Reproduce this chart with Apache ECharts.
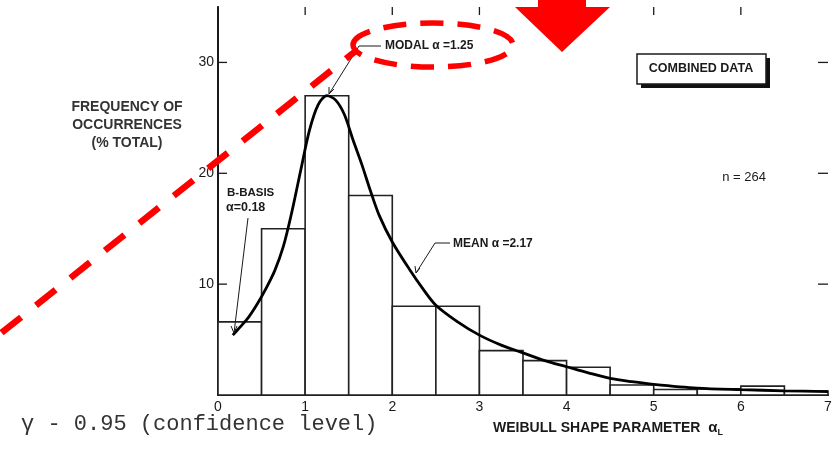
<!DOCTYPE html>
<html>
<head>
<meta charset="utf-8">
<script src="https://cdn.jsdelivr.net/npm/echarts@6/dist/echarts.min.js"></script>
<style>
html,body{margin:0;padding:0;background:#fff;}
#chart{width:835px;height:449px;}
</style>
</head>
<body>
<div id="chart"></div>
<script>
// Histogram bins (Weibull shape parameter) and frequency (% total)
const binStart = [0, 0.5, 1, 1.5, 2, 2.5, 3, 3.5, 4, 4.5, 5, 5.5, 6, 6.5];
const binEnd   = [0.5, 1, 1.5, 2, 2.5, 3, 3.5, 4, 4.5, 5, 5.5, 6, 6.5, 7];
const binFreq  = [6.6, 15, 27, 18, 8, 8, 4, 3.1, 2.5, 0.9, 0.5, 0.55, 0.8, 0.35];

// Fitted density curve
const curveX = [0.17, 0.25, 0.35, 0.45, 0.55, 0.65, 0.75, 0.85, 0.95, 1.05, 1.15, 1.25, 1.35, 1.45, 1.55, 1.65, 1.75, 1.85, 2.0, 2.2, 2.35, 2.5, 2.75, 3.0, 3.25, 3.5, 3.75, 4.0, 4.25, 4.5, 4.75, 5.0, 5.5, 6.0, 6.5, 7.0];
const curveY = [5.4, 6.1, 7.0, 8.2, 9.6, 11.2, 13.4, 16.6, 20.3, 23.9, 26.2, 27.0, 26.6, 25.3, 23.0, 20.8, 18.4, 16.2, 13.8, 11.3, 9.6, 8.1, 6.6, 5.4, 4.5, 3.8, 3.1, 2.55, 2.0, 1.5, 1.2, 0.96, 0.62, 0.48, 0.38, 0.3];

// Axis ticks
const xTicks = [0, 1, 2, 3, 4, 5, 6, 7];
const topTicks = [1, 2, 3, 4, 5, 6];
const yTicks = [10, 20, 30];

const FONT = "'Liberation Sans', Arial, sans-serif";
const INK = '#1a1a1a';

const chart = echarts.init(document.getElementById('chart'), null, {renderer: 'canvas'});

const histData = binStart.map((s, i) => [s, binEnd[i], binFreq[i]]);
const curveData = curveX.map((x, i) => [x, curveY[i]]);

const baseGraphics = [
    // y-axis title
    {type: 'text', z: 10, x: 127, y: 98,
     style: {text: 'FREQUENCY OF\nOCCURRENCES\n(% TOTAL)', fill: '#333', font: 'bold 14px ' + FONT,
       textAlign: 'center', lineHeight: 18}},
    // x-axis title
    {type: 'text', z: 10, x: 608, y: 428,
     style: {text: 'WEIBULL SHAPE PARAMETER  {a|α}{s|L}', fill: INK, font: 'bold 14px ' + FONT,
       textAlign: 'center', textVerticalAlign: 'middle',
       rich: {a: {font: 'bold 15px ' + FONT, fill: INK}, s: {font: 'bold 9px ' + FONT, fill: INK, padding: [10, 0, 0, 0]}}}},
    // confidence level text
    {type: 'text', z: 10, x: 21, y: 424,
     style: {text: 'γ - 0.95 (confidence level)', fill: '#333', font: '22px "Liberation Mono", "Courier New", monospace',
       textVerticalAlign: 'middle'}},
    // COMBINED DATA box with shadow
    {type: 'rect', z: 10, shape: {x: 641, y: 58, width: 129, height: 30}, style: {fill: '#111'}},
    {type: 'rect', z: 11, shape: {x: 637, y: 54, width: 129, height: 30}, style: {fill: '#fff', stroke: INK, lineWidth: 1.5}},
    {type: 'text', z: 12, x: 701, y: 69,
     style: {text: 'COMBINED DATA', fill: INK, font: 'bold 12.5px ' + FONT, textAlign: 'center', textVerticalAlign: 'middle'}},
    // n = 264
    {type: 'text', z: 10, x: 744, y: 177,
     style: {text: 'n = 264', fill: INK, font: '13px ' + FONT, textAlign: 'center', textVerticalAlign: 'middle'}},
    // MODAL annotation
    {type: 'text', z: 10, x: 385, y: 46,
     style: {text: 'MODAL α =1.25', fill: INK, font: 'bold 12px ' + FONT, textVerticalAlign: 'middle'}},
    {type: 'polyline', z: 10, shape: {points: [[381, 46], [359, 46], [329, 94]]}, style: {stroke: INK, lineWidth: 1, fill: null}},
    {type: 'polyline', z: 10, shape: {points: [[329, 87], [329, 94], [334, 89]]}, style: {stroke: INK, lineWidth: 1, fill: null}},
    // B-BASIS annotation
    {type: 'text', z: 10, x: 227, y: 193,
     style: {text: 'B-BASIS', fill: INK, font: 'bold 11.5px ' + FONT, textVerticalAlign: 'middle'}},
    {type: 'text', z: 10, x: 226, y: 208,
     style: {text: 'α=0.18', fill: INK, font: 'bold 12.5px ' + FONT, textVerticalAlign: 'middle'}},
    {type: 'line', z: 10, shape: {x1: 248, y1: 218, x2: 234, y2: 333}, style: {stroke: INK, lineWidth: 1}},
    {type: 'polyline', z: 10, shape: {points: [[231, 326], [234, 333], [237, 326]]}, style: {stroke: INK, lineWidth: 1, fill: null}},
    // MEAN annotation
    {type: 'text', z: 10, x: 453, y: 244,
     style: {text: 'MEAN α =2.17', fill: INK, font: 'bold 12px ' + FONT, textVerticalAlign: 'middle'}},
    {type: 'polyline', z: 10, shape: {points: [[450, 243], [435, 243], [416, 273]]}, style: {stroke: INK, lineWidth: 1, fill: null}},
    {type: 'polyline', z: 10, shape: {points: [[415, 266], [416, 273], [420, 268]]}, style: {stroke: INK, lineWidth: 1, fill: null}},
    // red overlays
    {type: 'line', z: 20, shape: {x1: 0, y1: 334, x2: 357, y2: 50},
     style: {stroke: '#ff0000', lineWidth: 6.5, lineDash: [25, 19], lineDashOffset: -2}},
    {type: 'ellipse', z: 20, shape: {cx: 433, cy: 45, rx: 80, ry: 22},
     style: {stroke: '#ff0000', fill: null, lineWidth: 5.5, lineDash: [23, 14]}},
    {type: 'polygon', z: 20, shape: {points: [[538, 0], [586, 0], [586, 7], [610, 7], [562, 52], [515, 7], [538, 7]]},
     style: {fill: '#ff0000'}}
];

const option = {
  backgroundColor: '#fff',
  animation: false,
  grid: {left: 218, right: 7, top: 7, bottom: 54, containLabel: false},
  xAxis: [{
    type: 'value', min: 0, max: 7, interval: 1, position: 'bottom',
    axisLine: {show: true, lineStyle: {color: INK, width: 1.5}},
    axisTick: {show: false},
    splitLine: {show: false},
    axisLabel: {color: INK, fontFamily: FONT, fontSize: 14, margin: 5,
      formatter: v => xTicks.includes(v) ? String(v) : ''}
  }, {
    type: 'value', min: 0, max: 7, interval: 1, position: 'top',
    axisLine: {show: true, lineStyle: {color: INK, width: 2}},
    axisTick: {show: false},
    axisLabel: {show: false}, splitLine: {show: false}
  }],
  yAxis: [{
    type: 'value', min: 0, max: 35, interval: 10, position: 'left',
    axisLine: {show: true, lineStyle: {color: INK, width: 1.5}},
    axisTick: {show: false},
    splitLine: {show: false},
    axisLabel: {color: INK, fontFamily: FONT, fontSize: 14, margin: 4,
      formatter: v => yTicks.includes(v) ? String(v) : ''}
  }, {
    type: 'value', min: 0, max: 35, interval: 10, position: 'right',
    axisLine: {show: true, lineStyle: {color: INK, width: 2}},
    axisTick: {show: false},
    axisLabel: {show: false}, splitLine: {show: false}
  }],
  series: [{
    type: 'custom',
    xAxisIndex: 0, yAxisIndex: 0,
    z: 2,
    data: histData,
    renderItem: function (params, api) {
      const p0 = api.coord([api.value(0), api.value(2)]);
      const p1 = api.coord([api.value(1), 0]);
      return {
        type: 'rect',
        shape: {x: p0[0], y: p0[1], width: p1[0] - p0[0], height: p1[1] - p0[1]},
        style: {fill: '#fff', stroke: '#222', lineWidth: 1.6}
      };
    }
  }, {
    type: 'line',
    xAxisIndex: 0, yAxisIndex: 0,
    z: 3,
    data: curveData,
    smooth: 0.3,
    showSymbol: false,
    lineStyle: {color: '#000', width: 2.8}
  }],
  graphic: baseGraphics
};
chart.setOption(option);

// Inward tick marks computed from the axes' scales
const tickGraphics = [];
const xL = chart.convertToPixel({xAxisIndex: 0}, 0);
const xR = chart.convertToPixel({xAxisIndex: 0}, 7);
const yT = chart.convertToPixel({yAxisIndex: 0}, 35);
yTicks.forEach(v => {
  const py = chart.convertToPixel({yAxisIndex: 0}, v);
  tickGraphics.push({type: 'line', z: 15, shape: {x1: xL, y1: py, x2: xL + 9, y2: py}, style: {stroke: INK, lineWidth: 1.3}});
  tickGraphics.push({type: 'line', z: 15, shape: {x1: xR, y1: py, x2: xR - 10, y2: py}, style: {stroke: INK, lineWidth: 1.3}});
});
topTicks.forEach(v => {
  const px = chart.convertToPixel({xAxisIndex: 0}, v);
  tickGraphics.push({type: 'line', z: 15, shape: {x1: px, y1: yT, x2: px, y2: yT + 8}, style: {stroke: INK, lineWidth: 1.3}});
});
chart.setOption({graphic: baseGraphics.concat(tickGraphics)});
</script>
</body>
</html>
